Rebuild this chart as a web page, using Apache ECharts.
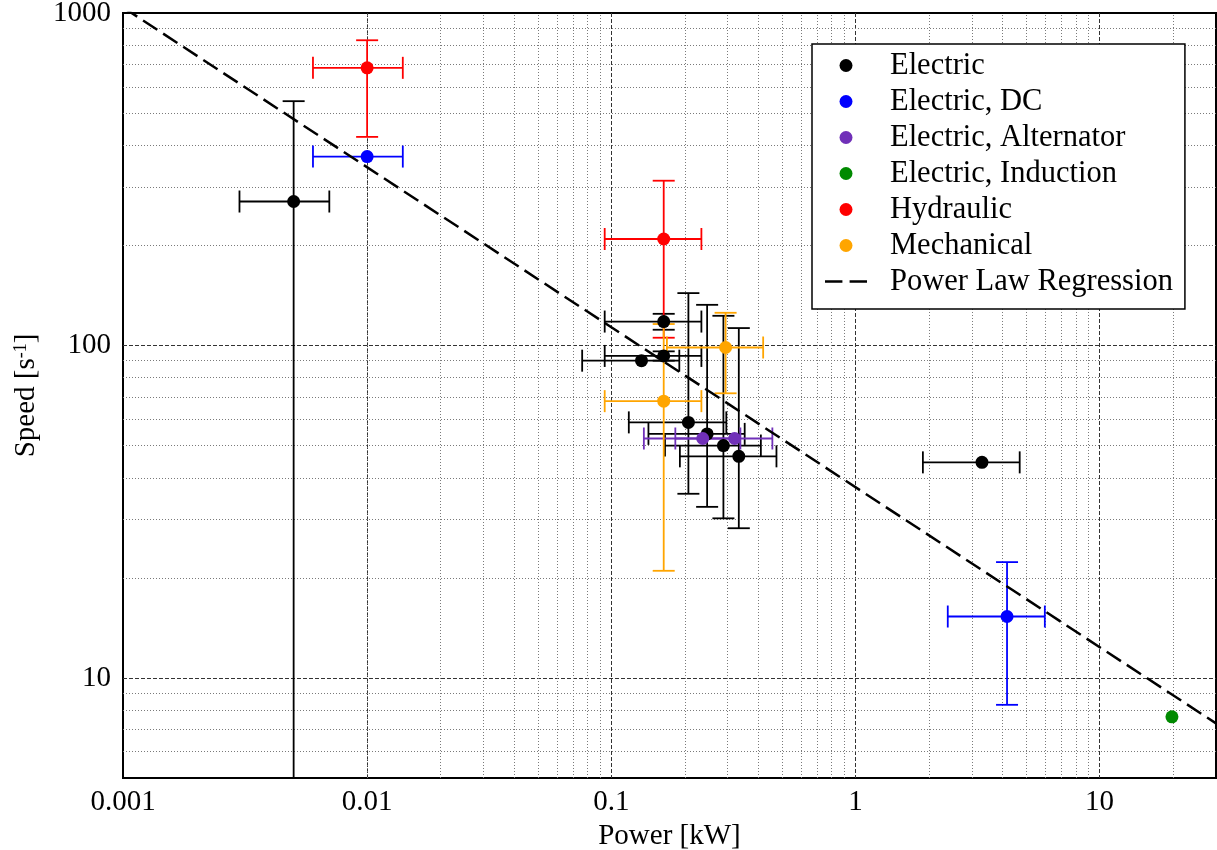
<!DOCTYPE html>
<html><head><meta charset="utf-8">
<script src="https://cdn.jsdelivr.net/npm/echarts@6/dist/echarts.min.js"></script>
<style>html,body{margin:0;padding:0;background:#fff}#c{width:1217px;height:850px}</style>
</head><body><div id="c"></div><script>
// ---- tick labels and grid positions ----
const xTickLabels = ['0.001', '0.01', '0.1', '1', '10'];
const yTickLabels = ['10', '100', '1000'];
const xMinorGrid = [0.002,0.003,0.004,0.005,0.006,0.007,0.008,0.009,
                    0.02,0.03,0.04,0.05,0.06,0.07,0.08,0.09,
                    0.2,0.3,0.4,0.5,0.6,0.7,0.8,0.9,
                    2,3,4,5,6,7,8,9,20];
const yMinorGrid = [6,7,8,9,20,30,40,50,60,70,80,90,200,300,400,500,600,700,800,900];

// ---- data: [power kW, power error (±), speed, speed low, speed high] ----
const electric = [
  [0.005, 0.002, 271, 1, 543],
  [0.164, 0.070, 118, 111.5, 124.5],
  [0.133, 0.057, 90, 90, 90],
  [0.164, 0.070, 93, 90, 96],
  [0.207, 0.089, 58.7, 35.8, 143.7],
  [0.247, 0.105, 54.2, 32.7, 132.5],
  [0.288, 0.122, 50.0, 30.2, 122.8],
  [0.333, 0.142, 46.4, 28.2, 112.8],
  [3.30, 1.41, 44.5, 44.5, 44.5]
];
const electricDC = [
  [0.010, 0.004, 370, 370, 370],
  [4.18, 1.79, 15.3, 8.3, 22.3]
];
const electricAlternator = [
  [0.237, 0.101, 52.5, 52.5, 52.5],
  [0.320, 0.137, 52.5, 52.5, 52.5]
];
const electricInduction = [
  [19.8, 0, 7.64, 7.64, 7.64]
];
const hydraulic = [
  [0.010, 0.004, 684, 424, 828],
  [0.164, 0.070, 209, 105.5, 313]
];
const mechanical = [
  [0.164, 0.070, 68, 21, 116],
  [0.294, 0.125, 98.6, 71.8, 125.4]
];
// power-law regression line end points
const regressionX = [0.001, 30];
const regressionY = [1040, 7.3];

const groups = [
  {name: 'Electric', color: '#000000', rows: electric},
  {name: 'Electric, DC', color: '#0000ff', rows: electricDC},
  {name: 'Electric, Alternator', color: '#7030b8', rows: electricAlternator},
  {name: 'Electric, Induction', color: '#008a00', rows: electricInduction},
  {name: 'Hydraulic', color: '#ff0000', rows: hydraulic},
  {name: 'Mechanical', color: '#ffa500', rows: mechanical}
];
const regressionName = 'Power Law Regression';

const FONT = 'Liberation Serif';

function labelFor(list) {
  return function (v) {
    for (const s of list) {
      if (Math.abs(Math.log10(v) - Math.log10(parseFloat(s))) < 1e-6) return s;
    }
    return '';
  };
}

function errorBarItem(params, api) {
  const x = api.value(0), y = api.value(1);
  const xLo = api.value(2), xHi = api.value(3), yLo = api.value(4), yHi = api.value(5);
  const style = {stroke: api.visual('color'), lineWidth: 1.8, fill: null};
  const cap = 11;
  const ch = [];
  const ln = (x1, y1, x2, y2) => ch.push({type: 'line', shape: {x1, y1, x2, y2}, style});
  if (xHi > xLo) {
    const a = api.coord([xLo, y]), b = api.coord([xHi, y]);
    ln(a[0], a[1], b[0], b[1]);
    ln(a[0], a[1] - cap, a[0], a[1] + cap);
    ln(b[0], b[1] - cap, b[0], b[1] + cap);
  }
  if (yHi > yLo) {
    const a = api.coord([x, yLo]), b = api.coord([x, yHi]);
    ln(a[0], a[1], b[0], b[1]);
    ln(a[0] - cap, a[1], a[0] + cap, a[1]);
    ln(b[0] - cap, b[1], b[0] + cap, b[1]);
  }
  return {type: 'group', children: ch};
}

const series = [];
// minor grid helper
series.push({
  type: 'line', name: '_grid', data: [], z: 1, silent: true,
  markLine: {
    silent: true, z: 1, symbol: ['none', 'none'], animation: false,
    label: {show: false},
    lineStyle: {type: [1, 2], color: '#7a7a7a', width: 1},
    emphasis: {disabled: true},
    data: xMinorGrid.map(v => ({xAxis: v})).concat(yMinorGrid.map(v => ({yAxis: v})))
  }
});
groups.forEach(g => {
  series.push({
    type: 'custom', name: g.name + ' err', renderItem: errorBarItem, clip: true, z: 3,
    itemStyle: {color: g.color}, silent: true,
    encode: {x: 0, y: 1},
    data: g.rows.map(r => [r[0], r[2], r[0] - r[1], r[0] + r[1], r[3], r[4]])
  });
  series.push({
    type: 'scatter', name: g.name, symbol: 'circle', symbolSize: 13, z: 4,
    itemStyle: {color: g.color, opacity: 1, borderWidth: 0},
    emphasis: {disabled: true},
    data: g.rows.map(r => [r[0], r[2]])
  });
});
series.push({
  type: 'line', name: regressionName, symbol: 'none', z: 5, clip: true,
  itemStyle: {color: '#000'},
  lineStyle: {color: '#000', width: 2.5, type: [17, 7]},
  emphasis: {disabled: true},
  data: regressionX.map((x, i) => [x, regressionY[i]])
});

const legendData = groups.map(g => ({name: g.name, icon: 'circle', itemStyle: {color: g.color, borderWidth: 0}}));
legendData.push({name: regressionName, icon: 'path://M0,0h17v2.5h-17z M24,0h17v2.5h-17z',
  itemStyle: {color: '#000', borderWidth: 0}, lineStyle: {width: 0}});

const chart = echarts.init(document.getElementById('c'), null, {renderer: 'canvas'});
chart.setOption({
  animation: false,
  backgroundColor: '#fff',
  textStyle: {fontFamily: FONT, color: '#000'},
  grid: {left: 123, right: 1, top: 13, bottom: 72, show: true, borderColor: '#000', borderWidth: 2,
    backgroundColor: 'transparent', containLabel: false, outerBoundsMode: 'none'},
  xAxis: {
    type: 'log', logBase: 10, min: 0.001, max: 30,
    name: 'Power [kW]', nameLocation: 'middle', nameGap: 38,
    nameTextStyle: {fontFamily: FONT, fontSize: 29, color: '#000'},
    axisLine: {show: false}, axisTick: {show: false},
    axisLabel: {fontFamily: FONT, fontSize: 29, color: '#000', margin: 10, formatter: labelFor(xTickLabels)},
    splitLine: {show: true, showMinLine: false, showMaxLine: false, lineStyle: {type: [4, 2], color: '#333', width: 1}}
  },
  yAxis: {
    type: 'log', logBase: 10, min: 5, max: 1000,
    name: 'Speed [s{sup|-1}]', nameLocation: 'middle', nameGap: 82, nameRotate: 90,
    nameTextStyle: {fontFamily: FONT, fontSize: 29, color: '#000',
      rich: {sup: {fontFamily: FONT, fontSize: 18, color: '#000', verticalAlign: 'top', lineHeight: 18}}},
    axisLine: {show: false}, axisTick: {show: false},
    axisLabel: {fontFamily: FONT, fontSize: 29, color: '#000', margin: 12, formatter: labelFor(yTickLabels)},
    splitLine: {show: true, showMinLine: false, showMaxLine: false, lineStyle: {type: [4, 2], color: '#333', width: 1}}
  },
  legend: {
    orient: 'vertical', left: 812, top: 44, z: 10,
    padding: [6, 12, 12, 13],
    itemWidth: 42, itemHeight: 13, itemGap: 5,
    symbolKeepAspect: true,
    backgroundColor: '#fff', borderColor: '#000', borderWidth: 1.5,
    textStyle: {fontFamily: FONT, fontSize: 30.5, color: '#000', lineHeight: 30.5, padding: [0, 0, 0, 18]},
    selectedMode: false,
    data: legendData
  },
  series: series
});
</script></body></html>
